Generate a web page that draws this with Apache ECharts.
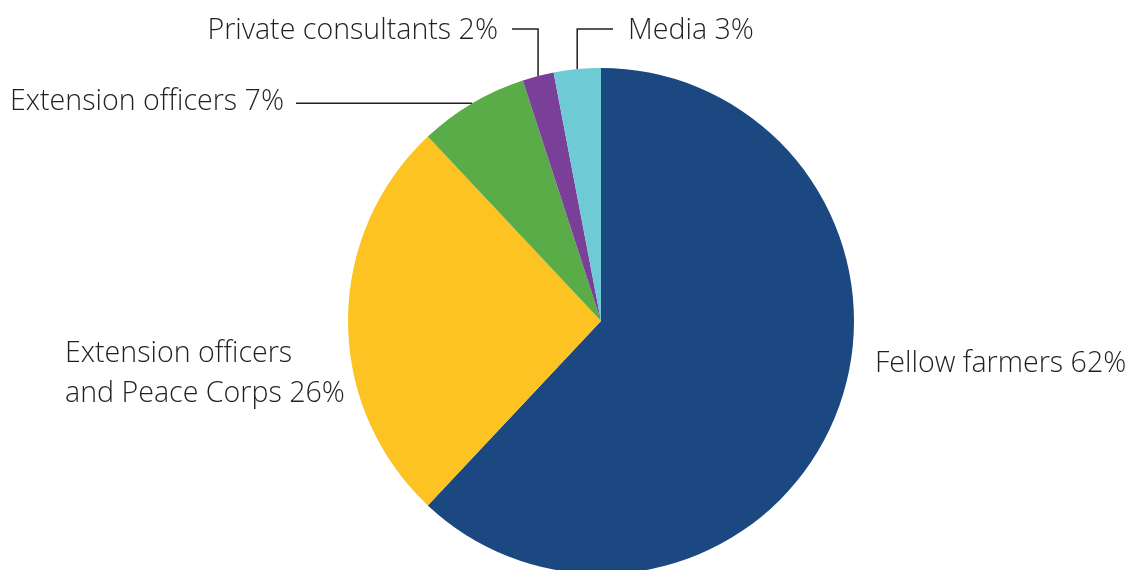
<!DOCTYPE html>
<html>
<head>
<meta charset="utf-8">
<script src="https://cdn.jsdelivr.net/npm/echarts@6/dist/echarts.min.js"></script>
<style>
  html, body { margin: 0; padding: 0; background: #ffffff; }
  #chart { width: 1129px; height: 570px; }
</style>
</head>
<body>
<div id="chart"></div>
<script>
// Sources of agricultural information, share of respondents (%)
const sources = [
  'Fellow farmers',
  'Extension officers\nand Peace Corps',
  'Extension officers',
  'Private consultants',
  'Media'
];
const shares = [62, 26, 7, 2, 3];
const sliceColors = ['#1c4882', '#fcc322', '#5aac48', '#7a3f98', '#6ecbd5'];

// Where each label sits (anchor point, alignment) and how its leader line bends
const labelSpots = [
  { x: 875, y: 364, align: 'left',  line: null },
  { x: 65,  y: 374, align: 'left',  line: null },
  { x: 284, y: 102, align: 'right', line: { elbowY: null, endX: 296 } },
  { x: 498, y: 31,  align: 'right', line: { elbowY: 29, endX: 512 } },
  { x: 628, y: 31,  align: 'left',  line: { elbowY: 29, endX: 613 } }
];

const FONT = '"Open Sans", "Liberation Sans", sans-serif';

const chart = echarts.init(document.getElementById('chart'), null, { renderer: 'canvas' });

chart.setOption({
  backgroundColor: '#ffffff',
  animation: false,
  series: [{
    type: 'pie',
    center: [601, 321],
    radius: 253,
    startAngle: 90,
    clockwise: true,
    avoidLabelOverlap: false,
    itemStyle: { borderWidth: 0 },
    emphasis: { disabled: true },
    label: {
      show: true,
      position: 'outside',
      color: '#231f20',
      fontFamily: FONT,
      fontWeight: 300,
      fontSize: 28.6,
      lineHeight: 40,
      formatter: p => p.name + ' ' + p.value + '%'
    },
    labelLine: {
      show: true,
      length: 10,
      length2: 10,
      lineStyle: { color: '#231f20', width: 1.5 }
    },
    data: sources.map((name, i) => ({
      name: name,
      value: shares[i],
      itemStyle: { color: sliceColors[i] },
      labelLine: { show: !!labelSpots[i].line }
    })),
    labelLayout: params => {
      const spot = labelSpots[params.dataIndex];
      const out = {
        x: spot.x,
        y: spot.y,
        align: spot.align,
        verticalAlign: 'middle'
      };
      if (spot.line && params.labelLinePoints) {
        const start = params.labelLinePoints[0];
        if (spot.line.elbowY === null) {
          out.labelLinePoints = [start, [spot.line.endX, start[1]], [spot.line.endX, start[1]]];
        } else {
          out.labelLinePoints = [
            start,
            [start[0], spot.line.elbowY],
            [spot.line.endX, spot.line.elbowY]
          ];
        }
      }
      return out;
    }
  }]
});
</script>
</body>
</html>
